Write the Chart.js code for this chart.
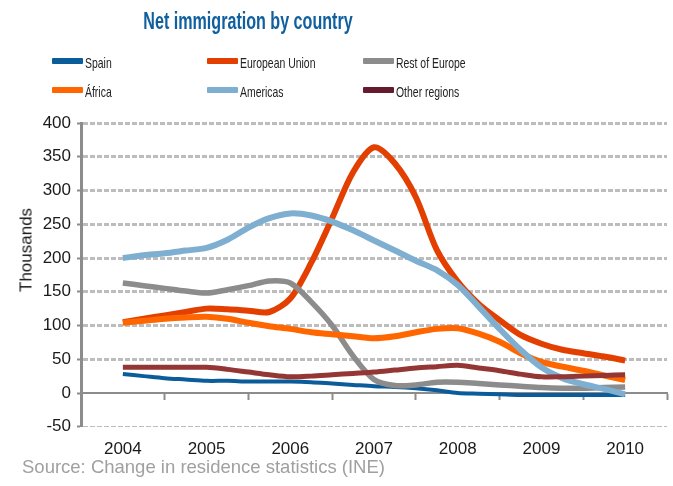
<!DOCTYPE html>
<html>
<head>
<meta charset="utf-8">
<script src="https://cdn.jsdelivr.net/npm/chart.js@4.4.1/dist/chart.umd.min.js"></script>
<style>
  html, body { margin: 0; padding: 0; background: #fff; }
  #wrap { position: relative; width: 673px; height: 486px; overflow: hidden;
          font-family: "Liberation Sans", Arial, Helvetica, sans-serif; }
  #chart { position: absolute; left: 0; top: 0; }
  .title { position: absolute; left: 248px; top: 10px; font-size: 23px; line-height: 1;
           font-weight: bold; color: #1060a0; white-space: nowrap;
           transform: translateX(-50%) scaleX(0.7); }
  .legend-swatch { position: absolute; width: 31px; height: 6px; border-radius: 1px; }
  .legend-text { position: absolute; font-size: 14.5px; line-height: 1; color: #222;
                 white-space: nowrap; transform: scaleX(0.72); transform-origin: left center; }
  .ytitle { position: absolute; left: 26px; top: 250px; font-size: 17px; line-height: 1;
            color: #1a1a1a; white-space: nowrap; transform: translate(-50%, -50%) rotate(-90deg); }
  .source { position: absolute; left: 22px; top: 458px; font-size: 18.5px; line-height: 1;
            color: #a0a0a0; white-space: nowrap; }
</style>
</head>
<body>
<div id="wrap">
  <canvas id="chart" width="673" height="486"></canvas>
  <div class="title">Net immigration by country</div>
  <div id="legend"></div>
  <div class="ytitle">Thousands</div>
  <div class="source">Source: Change in residence statistics (INE)</div>
</div>
<script>
// Quarterly observations, expressed as fractional years
const quarters = [2004.00, 2004.25, 2004.50, 2004.75,
                  2005.00, 2005.25, 2005.50, 2005.75,
                  2006.00, 2006.25, 2006.50, 2006.75,
                  2007.00, 2007.25, 2007.50, 2007.75,
                  2008.00, 2008.25, 2008.50, 2008.75,
                  2009.00, 2009.25, 2009.50, 2009.75,
                  2010.00];

// Year labels on the horizontal axis and the category boundaries between them
const yearLabels = [2004, 2005, 2006, 2007, 2008, 2009, 2010];
const yearBounds = [2003.5, 2004.5, 2005.5, 2006.5, 2007.5, 2008.5, 2009.5, 2010.5];

// Net immigration (thousands)
const spain         = [28, 25, 22, 20, 18, 18, 17, 17, 17, 16, 14, 12, 10, 9, 7, 4, 0, -1, -2, -3, -3, -3, -3, -3, -3];
const europeanUnion = [105, 110, 115, 120, 125, 124, 122, 120, 140, 193, 259, 327, 364, 340, 290, 212, 165, 132, 108, 86, 73, 64, 59, 54, 48];
const restOfEurope  = [163, 159, 155, 151, 148, 153, 159, 166, 163, 135, 100, 55, 20, 11, 12, 16, 16, 14, 12, 10, 8, 7, 7, 8, 9];
const africa        = [104, 107, 110, 112, 113, 110, 104, 99, 95, 90, 87, 84, 81, 84, 90, 95, 96, 88, 76, 59, 46, 39, 33, 26, 19];
const americas      = [200, 204, 207, 211, 215, 227, 245, 259, 266, 263, 254, 241, 226, 211, 196, 182, 160, 128, 95, 64, 38, 22, 13, 6, -2];
const otherRegions  = [38, 38, 38, 38, 38, 35, 31, 27, 24, 25, 27, 29, 31, 34, 37, 39, 41, 37, 33, 28, 24, 24, 25, 26, 27];

const FONT = '"Liberation Sans", Arial, Helvetica, sans-serif';

const series = [
  { label: 'Spain',          values: spain,         color: '#0b5c9a', width: 4 },
  { label: 'European Union', values: europeanUnion, color: '#e23f00', width: 6 },
  { label: 'Rest of Europe', values: restOfEurope,  color: '#8c8c8c', width: 5.5 },
  { label: 'África',         values: africa,        color: '#ff6600', width: 6 },
  { label: 'Americas',       values: americas,      color: '#7eaed0', width: 6 },
  { label: 'Other regions',  values: otherRegions,  color: '#943634', width: 5, legendColor: '#661a2e' }
];

const datasets = series.map((s, i) => ({
  label: s.label,
  data: quarters.map((q, k) => ({ x: q, y: s.values[k] })),
  borderColor: s.color,
  backgroundColor: s.color,
  legendColor: s.legendColor || s.color,
  borderWidth: s.width,
  pointRadius: 0,
  pointHoverRadius: 0,
  fill: false,
  tension: 0.3,
  borderJoinStyle: 'round',
  borderCapStyle: 'butt',
  order: series.length - 1 - i   // later series are painted on top
}));

const chart = new Chart(document.getElementById('chart'), {
  type: 'line',
  data: { datasets },
  options: {
    responsive: false,
    animation: false,
    devicePixelRatio: 1,
    layout: { padding: { top: 123, right: 6, left: 0, bottom: 0 } },
    plugins: {
      legend: { display: false },
      title: { display: false },
      tooltip: { enabled: false }
    },
    scales: {
      x: {
        type: 'linear',
        position: 'bottom',
        min: 2003.5,
        max: 2010.5,
        afterBuildTicks: s => { s.ticks = yearLabels.map(v => ({ value: v })); },
        afterFit: s => { s.height = 59.25; },
        grid: { display: false, drawTicks: false },
        border: { display: false },
        ticks: {
          autoSkip: false, maxRotation: 0, padding: 12,
          color: '#1a1a1a', font: { family: FONT, size: 17 },
          callback: v => String(v)
        }
      },
      xBase: {
        axis: 'x',
        type: 'linear',
        position: { y: 0 },
        min: 2003.5,
        max: 2010.5,
        afterBuildTicks: s => { s.ticks = yearBounds.map(v => ({ value: v })); },
        grid: { display: true, drawOnChartArea: false, drawTicks: true,
                tickLength: 6, tickWidth: 2, tickColor: '#8c8c8c' },
        border: { display: true, color: '#8c8c8c', width: 2 },
        ticks: { display: false, autoSkip: false }
      },
      y: {
        type: 'linear',
        min: -50,
        max: 400,
        afterFit: s => { s.width = 81; },
        ticks: {
          stepSize: 50, padding: 6,
          color: '#1a1a1a', font: { family: FONT, size: 17 }
        },
        grid: {
          color: c => (c.tick && c.tick.value === 0) ? 'rgba(0,0,0,0)' : '#bdbdbd',
          lineWidth: c => (c.tick && c.tick.value === -50) ? 1 : 3,
          drawTicks: true, tickLength: 4, tickWidth: 2, tickColor: '#8c8c8c'
        },
        border: { display: true, color: '#8c8c8c', width: 3, dash: [5, 2] }
      }
    }
  }
});

// HTML legend in three columns, two rows, built from the chart's datasets
const legendEl = document.getElementById('legend');
const colSwatch = [52, 207, 363];
const rowSwatchTop = [58, 87];
const rowTextTop = [55.5, 84.5];
chart.data.datasets.forEach((ds, i) => {
  const col = i % 3, row = Math.floor(i / 3);
  const sw = document.createElement('span');
  sw.className = 'legend-swatch';
  sw.style.left = colSwatch[col] + 'px';
  sw.style.top = rowSwatchTop[row] + 'px';
  sw.style.background = ds.legendColor;
  const tx = document.createElement('span');
  tx.className = 'legend-text';
  tx.style.left = (colSwatch[col] + 33) + 'px';
  tx.style.top = rowTextTop[row] + 'px';
  tx.textContent = ds.label;
  legendEl.appendChild(sw);
  legendEl.appendChild(tx);
});
</script>
</body>
</html>
